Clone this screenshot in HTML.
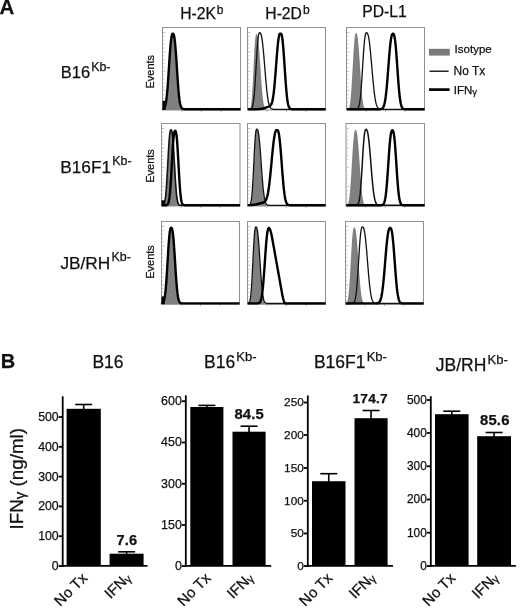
<!DOCTYPE html>
<html><head><meta charset="utf-8"><title>Figure</title>
<style>
html,body{margin:0;padding:0;background:#fff;}
body{width:520px;height:611px;overflow:hidden;font-family:"Liberation Sans",sans-serif;}
svg{display:block;will-change:transform;}
svg text{font-family:"Liberation Sans",sans-serif;fill:#111;stroke:#111;stroke-width:0.25px;}
</style></head><body>
<svg width="520" height="611" viewBox="0 0 520 611">
<rect width="520" height="611" fill="#fff"/>
<rect x="162.5" y="27.5" width="78.0" height="82.5" fill="#fff" stroke="#909090" stroke-width="1"/>
<path d="M163.0,106.1h1.3M163.0,102.2h1.3M163.0,98.4h1.3M163.0,94.5h1.3M163.0,90.6h2.4M163.0,86.8h1.3M163.0,82.9h1.3M163.0,79.0h1.3M163.0,75.1h1.3M163.0,71.2h2.4M163.0,67.4h1.3M163.0,63.5h1.3M163.0,59.6h1.3M163.0,55.8h1.3M163.0,51.9h2.4M163.0,48.0h1.3M163.0,44.1h1.3M163.0,40.2h1.3M163.0,36.4h1.3M163.0,32.5h2.4" stroke="#a8a8a8" stroke-width="0.7" fill="none"/>
<path d="M182.0,110.0v1.8M201.5,110.0v1.8M221.0,110.0v1.8" stroke="#999" stroke-width="0.8" fill="none"/>
<path d="M162.5,110 162.5,110 163,110 163.5,109.9 164,109.8 164.5,109.5 165,109 165.5,108.1 166,106.4 166.5,103.8 167,100 167.5,94.7 168,88 168.5,80 169,71.2 169.5,62.1 170,53.6 170.5,46.2 171,40.4 171.5,36.6 172,34.6 172.5,34 173,34.2 173.5,35.4 174,38 174.5,42.4 175,48.4 175.5,55.7 176,63.9 176.5,72.4 177,80.7 177.5,88.2 178,94.5 178.5,99.5 179,103.3 179.5,106 180,107.7 180.5,108.8 181,109.4 181.5,109.7 182,109.9 182.5,109.9 183,110 183.5,110 184,110 184.5,110 186.9,110Z" fill="#808080"/>
<rect x="162.5" y="100.8" width="3.2" height="9.2" fill="#000"/>
<path d="M163,109.2 163,109 163.5,108.8 164,108.4 164.5,107.6 165,106.5 165.5,104.7 166,102.2 166.5,98.6 167,94 167.5,88.3 168,81.7 168.5,74.3 169,66.5 169.5,58.8 170,51.7 170.5,45.5 171,40.5 171.5,37 172,34.8 172.5,33.8 173,33.7 173.5,34.1 174,35.5 174.5,38.2 175,42.3 175.5,47.8 176,54.4 176.5,61.9 177,69.6 177.5,77.3 178,84.4 178.5,90.8 179,96 179.5,100.2 180,103.3 180.5,105.5 181,107 181.5,108 182,108.5 182.5,108.9 183,109 183.5,109.1 184,109.2 184.5,109.2 185,109.2 185.5,109.2 186,109.2 240.5,109.2" fill="none" stroke="#000" stroke-width="2.4" stroke-linejoin="round"/>
<rect x="247.5" y="27.5" width="78.0" height="82.5" fill="#fff" stroke="#909090" stroke-width="1"/>
<path d="M248.0,106.1h1.3M248.0,102.2h1.3M248.0,98.4h1.3M248.0,94.5h1.3M248.0,90.6h2.4M248.0,86.8h1.3M248.0,82.9h1.3M248.0,79.0h1.3M248.0,75.1h1.3M248.0,71.2h2.4M248.0,67.4h1.3M248.0,63.5h1.3M248.0,59.6h1.3M248.0,55.8h1.3M248.0,51.9h2.4M248.0,48.0h1.3M248.0,44.1h1.3M248.0,40.2h1.3M248.0,36.4h1.3M248.0,32.5h2.4" stroke="#a8a8a8" stroke-width="0.7" fill="none"/>
<path d="M267.0,110.0v1.8M286.5,110.0v1.8M306.0,110.0v1.8" stroke="#999" stroke-width="0.8" fill="none"/>
<path d="M247.5,110 247.5,110 248,110 248.5,109.9 249,109.8 249.5,109.6 250,109 250.5,107.8 251,105.5 251.5,101.7 252,96 252.5,88.3 253,78.8 253.5,68.2 254,57.6 254.5,48.3 255,41 255.5,36.4 256,34.3 256.5,34 257,34.4 257.5,35.7 258,38.2 258.5,42.2 259,47.4 259.5,53.7 260,60.9 260.5,68.5 261,76.1 261.5,83.2 262,89.7 262.5,95.1 263,99.6 263.5,103 264,105.5 264.5,107.2 265,108.4 265.5,109.1 266,109.5 266.5,109.8 267,109.9 267.5,109.9 268,110 268.5,110 269,110 269.5,110 270,110 272.4,110Z" fill="#808080"/>
<path d="M247.5,109.3 247.5,109.3 248,109.3 248.5,109.3 249,109.3 249.5,109.3 250,109.2 250.5,109.1 251,108.9 251.5,108.5 252,107.7 252.5,106.4 253,104.3 253.5,101.2 254,96.9 254.5,91.3 255,84.4 255.5,76.5 256,68 256.5,59.5 257,51.5 257.5,44.6 258,39.2 258.5,35.5 259,33.4 259.5,32.7 260,32.7 260.5,33.2 261,34.2 261.5,36.1 262,38.9 262.5,42.5 263,47 263.5,52.2 264,58 264.5,64.1 265,70.3 265.5,76.4 266,82.2 266.5,87.5 267,92.3 267.5,96.3 268,99.7 268.5,102.3 269,104.4 269.5,106 270,107.1 270.5,107.9 271,108.4 271.5,108.8 272,109 272.5,109.1 273,109.2 273.5,109.3 274,109.3 274.5,109.3 275,109.3 275.5,109.3 276,109.3 276.5,109.3 325.5,109.3" fill="none" stroke="#111" stroke-width="1.3" stroke-linejoin="round"/>
<path d="M248,109.2 256.6,109.2 257.1,109.2 257.6,109.1 258.1,109.1 258.6,109.1 259.1,109.1 259.6,109 260.1,109 260.6,108.9 261.1,108.9 261.6,108.8 262.1,108.7 262.6,108.6 263.1,108.5 263.6,108.4 264.1,108.2 264.6,108.1 265.1,107.9 265.6,107.7 266.1,107.5 266.6,107.4 267.1,107.2 267.6,107 268.1,106.8 268.6,106.6 269.1,106.4 269.6,106.1 270.1,105.8 270.6,105.3 271.1,104.6 271.6,103.6 272.1,102.1 272.6,100.1 273.1,97.3 273.6,93.8 274.1,89.5 274.6,84.4 275.1,78.5 275.6,72.2 276.1,65.5 276.6,58.9 277.1,52.6 277.6,46.9 278.1,42 278.6,38.2 279.1,35.5 279.6,33.9 280.1,33.7 280.6,33.7 281.1,33.7 281.6,34.6 282.1,37 282.6,40.6 283.1,45.6 283.6,51.8 284.1,58.8 284.6,66.3 285.1,73.9 285.6,81.2 286.1,87.7 286.6,93.4 287.1,98 287.6,101.6 288.1,104.3 288.6,106.2 289.1,107.4 289.6,108.2 290.1,108.7 290.6,108.9 291.1,109.1 291.6,109.1 292.1,109.2 292.6,109.2 293.1,109.2 293.6,109.2 294.1,109.2 325.5,109.2" fill="none" stroke="#000" stroke-width="2.4" stroke-linejoin="round"/>
<rect x="346.5" y="27.5" width="78.0" height="82.5" fill="#fff" stroke="#909090" stroke-width="1"/>
<path d="M347.0,106.1h1.3M347.0,102.2h1.3M347.0,98.4h1.3M347.0,94.5h1.3M347.0,90.6h2.4M347.0,86.8h1.3M347.0,82.9h1.3M347.0,79.0h1.3M347.0,75.1h1.3M347.0,71.2h2.4M347.0,67.4h1.3M347.0,63.5h1.3M347.0,59.6h1.3M347.0,55.8h1.3M347.0,51.9h2.4M347.0,48.0h1.3M347.0,44.1h1.3M347.0,40.2h1.3M347.0,36.4h1.3M347.0,32.5h2.4" stroke="#a8a8a8" stroke-width="0.7" fill="none"/>
<path d="M366.0,110.0v1.8M385.5,110.0v1.8M405.0,110.0v1.8" stroke="#999" stroke-width="0.8" fill="none"/>
<path d="M346.5,110 346.5,110 347,109.9 347.5,109.8 348,109.5 348.5,109 349,108 349.5,106.4 350,103.7 350.5,99.8 351,94.5 351.5,87.7 352,79.6 352.5,70.6 353,61.5 353.5,52.8 354,45.3 354.5,39.5 355,35.6 355.5,33.6 356,33 356.5,33.1 357,34.1 357.5,36.3 358,39.9 358.5,45 359,51.3 359.5,58.6 360,66.5 360.5,74.4 361,81.9 361.5,88.7 362,94.5 362.5,99.2 363,102.8 363.5,105.4 364,107.2 364.5,108.4 365,109.1 365.5,109.6 366,109.8 366.5,109.9 367,110 367.5,110 368,110 368.5,110 369,110 371.6,110Z" fill="#808080"/>
<path d="M346.5,109.3 353.5,109.3 354,109.3 354.5,109.3 355,109.3 355.5,109.3 356,109.2 356.5,109.2 357,109 357.5,108.7 358,108.2 358.5,107.3 359,105.8 359.5,103.6 360,100.4 360.5,96.2 361,90.7 361.5,84.2 362,76.7 362.5,68.7 363,60.6 363.5,52.9 364,46.1 364.5,40.6 365,36.6 365.5,34.1 366,32.9 366.5,32.7 367,32.8 367.5,33.5 368,34.7 368.5,36.7 369,39.4 369.5,43 370,47.3 370.5,52.2 371,57.6 371.5,63.3 372,69.2 372.5,74.9 373,80.5 373.5,85.7 374,90.3 374.5,94.4 375,97.9 375.5,100.8 376,103.1 376.5,104.9 377,106.3 377.5,107.3 378,108 378.5,108.4 379,108.8 379.5,109 380,109.1 380.5,109.2 381,109.2 381.5,109.3 382,109.3 382.5,109.3 383,109.3 383.5,109.3 384,109.3 424.5,109.3" fill="none" stroke="#111" stroke-width="1.3" stroke-linejoin="round"/>
<path d="M347,109.2 377.2,109.2 377.7,109.2 378.2,109.2 378.7,109.2 379.2,109.2 379.7,109.2 380.2,109.1 380.7,109.1 381.2,109 381.7,108.8 382.2,108.6 382.7,108.1 383.2,107.4 383.7,106.4 384.2,104.9 384.7,102.8 385.2,100.1 385.7,96.7 386.2,92.5 386.7,87.5 387.2,81.8 387.7,75.7 388.2,69.2 388.7,62.6 389.2,56.3 389.7,50.5 390.2,45.3 390.7,41.1 391.2,37.9 391.7,35.6 392.2,34.3 392.7,33.8 393.2,33.7 393.7,34.1 394.2,35.4 394.7,37.8 395.2,41.4 395.7,46.2 396.2,52 396.7,58.6 397.2,65.7 397.7,72.9 398.2,79.9 398.7,86.3 399.2,91.9 399.7,96.6 400.2,100.3 400.7,103.2 401.2,105.3 401.7,106.8 402.2,107.8 402.7,108.4 403.2,108.8 403.7,109 404.2,109.1 404.7,109.1 405.2,109.2 405.7,109.2 406.2,109.2 406.7,109.2 407.2,109.2 424.5,109.2" fill="none" stroke="#000" stroke-width="2.4" stroke-linejoin="round"/>
<rect x="161.5" y="123.5" width="78.5" height="82.5" fill="#fff" stroke="#909090" stroke-width="1"/>
<path d="M162.0,202.1h1.3M162.0,198.2h1.3M162.0,194.4h1.3M162.0,190.5h1.3M162.0,186.6h2.4M162.0,182.8h1.3M162.0,178.9h1.3M162.0,175.0h1.3M162.0,171.1h1.3M162.0,167.2h2.4M162.0,163.4h1.3M162.0,159.5h1.3M162.0,155.6h1.3M162.0,151.8h1.3M162.0,147.9h2.4M162.0,144.0h1.3M162.0,140.1h1.3M162.0,136.2h1.3M162.0,132.4h1.3M162.0,128.5h2.4" stroke="#a8a8a8" stroke-width="0.7" fill="none"/>
<path d="M181.1,206.0v1.8M200.8,206.0v1.8M220.4,206.0v1.8" stroke="#999" stroke-width="0.8" fill="none"/>
<path d="M161.5,206 161.5,206 162,206 162.5,205.9 163,205.8 163.5,205.5 164,204.8 164.5,203.6 165,201.5 165.5,198.2 166,193.3 166.5,186.8 167,178.8 167.5,169.6 168,159.9 168.5,150.6 169,142.6 169.5,136.4 170,132.4 170.5,130.4 171,130 171.5,130.3 172,131.6 172.5,134.4 173,138.8 173.5,144.7 174,151.9 174.5,159.9 175,168.2 175.5,176.2 176,183.6 176.5,189.8 177,194.9 177.5,198.8 178,201.5 178.5,203.4 179,204.5 179.5,205.2 180,205.6 180.5,205.8 181,205.9 181.5,206 182,206 182.5,206 183,206 183.5,206 185.7,206Z" fill="#808080"/>
<path d="M161.5,205.3 161.5,205.3 162,205.3 162.5,205.2 163,205.1 163.5,204.8 164,204.1 164.5,202.9 165,200.8 165.5,197.5 166,192.7 166.5,186.3 167,178.2 167.5,169.1 168,159.5 168.5,150.3 169,142.3 169.5,136.2 170,132.2 170.5,130.2 171,129.8 171.5,130.2 172,131.8 172.5,135.3 173,140.6 173.5,147.6 174,156 174.5,164.9 175,173.8 175.5,181.9 176,188.9 176.5,194.4 177,198.5 177.5,201.3 178,203.1 178.5,204.2 179,204.8 179.5,205.1 180,205.2 180.5,205.3 181,205.3 181.5,205.3 182,205.3 182.5,205.3 240,205.3" fill="none" stroke="#111" stroke-width="1.6" stroke-linejoin="round"/>
<rect x="161.5" y="200.3" width="3.2" height="5.7" fill="#000"/>
<path d="M162,205.2 164,205.2 164.5,205.2 165,205.2 165.5,205.2 166,205.2 166.5,205.1 167,204.9 167.5,204.6 168,203.9 168.5,202.7 169,200.6 169.5,197.4 170,192.7 170.5,186.6 171,179 171.5,170.3 172,161.2 172.5,152.3 173,144.4 173.5,138.2 174,133.9 174.5,131.6 175,130.8 175.5,130.9 176,132.2 176.5,135.2 177,140.2 177.5,147.1 178,155.4 178.5,164.5 179,173.5 179.5,181.9 180,189 180.5,194.6 181,198.7 181.5,201.5 182,203.2 182.5,204.2 183,204.7 183.5,205 184,205.1 184.5,205.2 185,205.2 185.5,205.2 186,205.2 240,205.2" fill="none" stroke="#000" stroke-width="2.4" stroke-linejoin="round"/>
<rect x="247.5" y="123.5" width="78.0" height="82.5" fill="#fff" stroke="#909090" stroke-width="1"/>
<path d="M248.0,202.1h1.3M248.0,198.2h1.3M248.0,194.4h1.3M248.0,190.5h1.3M248.0,186.6h2.4M248.0,182.8h1.3M248.0,178.9h1.3M248.0,175.0h1.3M248.0,171.1h1.3M248.0,167.2h2.4M248.0,163.4h1.3M248.0,159.5h1.3M248.0,155.6h1.3M248.0,151.8h1.3M248.0,147.9h2.4M248.0,144.0h1.3M248.0,140.1h1.3M248.0,136.2h1.3M248.0,132.4h1.3M248.0,128.5h2.4" stroke="#a8a8a8" stroke-width="0.7" fill="none"/>
<path d="M267.0,206.0v1.8M286.5,206.0v1.8M306.0,206.0v1.8" stroke="#999" stroke-width="0.8" fill="none"/>
<path d="M247.5,206 247.5,206 248,206 248.5,206 249,206 249.5,205.9 250,205.7 250.5,205.2 251,204.1 251.5,202.1 252,198.4 252.5,192.8 253,184.9 253.5,175 254,164 254.5,152.9 255,143.2 255.5,135.8 256,131.3 256.5,129.5 257,129.3 257.5,129.8 258,131.3 258.5,134 259,137.9 259.5,143.2 260,149.5 260.5,156.5 261,164 261.5,171.4 262,178.5 262.5,184.9 263,190.4 263.5,194.9 264,198.4 264.5,201 265,202.9 265.5,204.1 266,204.9 266.5,205.4 267,205.7 267.5,205.8 268,205.9 268.5,206 269,206 269.5,206 270,206 270.5,206 273.2,206Z" fill="#808080"/>
<path d="M247.5,205.3 247.5,205.3 248,205.3 248.5,205.3 249,205.2 249.5,205 250,204.5 250.5,203.6 251,201.8 251.5,198.8 252,194.2 252.5,187.6 253,179.2 253.5,169.4 254,159.1 254.5,149.2 255,140.7 255.5,134.5 256,130.7 256.5,129.2 257,129.1 257.5,129.6 258,130.8 258.5,133.2 259,136.7 259.5,141.4 260,147.1 260.5,153.5 261,160.5 261.5,167.6 262,174.5 262.5,180.9 263,186.6 263.5,191.5 264,195.4 264.5,198.5 265,200.8 265.5,202.4 266,203.5 266.5,204.3 267,204.7 267.5,205 268,205.1 268.5,205.2 269,205.3 269.5,205.3 270,205.3 270.5,205.3 271,205.3 271.5,205.3 325.5,205.3" fill="none" stroke="#111" stroke-width="1.3" stroke-linejoin="round"/>
<path d="M248,205.2 248,205.2 248.5,205.1 249,205.1 249.5,205.1 250,205.1 250.5,205.1 251,205 251.5,205 252,205 252.5,204.9 253,204.9 253.5,204.8 254,204.7 254.5,204.6 255,204.6 255.5,204.5 256,204.4 256.5,204.3 257,204.1 257.5,204 258,203.9 258.5,203.8 259,203.6 259.5,203.5 260,203.4 260.5,203.2 261,203.1 261.5,203 262,202.8 262.5,202.7 263,202.6 263.5,202.4 264,202.1 264.5,201.8 265,201.4 265.5,200.8 266,199.9 266.5,198.8 267,197.3 267.5,195.4 268,193 268.5,190 269,186.6 269.5,182.5 270,178 270.5,173.1 271,167.9 271.5,162.6 272,157.2 272.5,152 273,147.1 273.5,142.7 274,138.9 274.5,135.7 275,133.2 275.5,131.5 276,130.4 276.5,130.1 277,130.1 277.5,130.1 278,130.6 278.5,132.1 279,134.6 279.5,138.2 280,142.8 280.5,148.2 281,154.4 281.5,160.9 282,167.6 282.5,174.1 283,180.2 283.5,185.7 284,190.5 284.5,194.4 285,197.6 285.5,200 286,201.7 286.5,203 287,203.9 287.5,204.4 288,204.7 288.5,205 289,205.1 289.5,205.1 290,205.2 290.5,205.2 291,205.2 291.5,205.2 292,205.2 292.5,205.2 325.5,205.2" fill="none" stroke="#000" stroke-width="2.4" stroke-linejoin="round"/>
<rect x="346.0" y="123.5" width="78.5" height="82.5" fill="#fff" stroke="#909090" stroke-width="1"/>
<path d="M346.5,202.1h1.3M346.5,198.2h1.3M346.5,194.4h1.3M346.5,190.5h1.3M346.5,186.6h2.4M346.5,182.8h1.3M346.5,178.9h1.3M346.5,175.0h1.3M346.5,171.1h1.3M346.5,167.2h2.4M346.5,163.4h1.3M346.5,159.5h1.3M346.5,155.6h1.3M346.5,151.8h1.3M346.5,147.9h2.4M346.5,144.0h1.3M346.5,140.1h1.3M346.5,136.2h1.3M346.5,132.4h1.3M346.5,128.5h2.4" stroke="#a8a8a8" stroke-width="0.7" fill="none"/>
<path d="M365.6,206.0v1.8M385.2,206.0v1.8M404.9,206.0v1.8" stroke="#999" stroke-width="0.8" fill="none"/>
<path d="M346,206 346,205.9 346.5,205.7 347,205.5 347.5,204.9 348,203.9 348.5,202.4 349,199.9 349.5,196.4 350,191.6 350.5,185.5 351,178.2 351.5,170 352,161.5 352.5,153.1 353,145.6 353.5,139.3 354,134.6 354.5,131.6 355,130.1 355.5,129.8 356,130 356.5,131.1 357,133.2 357.5,136.6 358,141.4 358.5,147.2 359,154 359.5,161.3 360,168.7 360.5,176 361,182.6 361.5,188.4 362,193.3 362.5,197.2 363,200.1 363.5,202.3 364,203.7 364.5,204.7 365,205.3 365.5,205.6 366,205.8 366.5,205.9 367,206 367.5,206 368,206 368.5,206 369,206 369.5,206 371.9,206Z" fill="#808080"/>
<path d="M346,205.3 353.7,205.3 354.2,205.3 354.7,205.3 355.2,205.3 355.7,205.3 356.2,205.2 356.7,205.1 357.2,204.9 357.7,204.5 358.2,203.8 358.7,202.5 359.2,200.5 359.7,197.5 360.2,193.4 360.7,187.9 361.2,181.2 361.7,173.4 362.2,165 362.7,156.5 363.2,148.5 363.7,141.6 364.2,136.1 364.7,132.3 365.2,130.1 365.7,129.4 366.2,129.3 366.7,129.7 367.2,130.8 367.7,132.7 368.2,135.5 368.7,139.2 369.2,143.8 369.7,149.1 370.2,155 370.7,161.2 371.2,167.5 371.7,173.7 372.2,179.5 372.7,184.8 373.2,189.4 373.7,193.3 374.2,196.5 374.7,199.1 375.2,201 375.7,202.4 376.2,203.4 376.7,204.1 377.2,204.6 377.7,204.9 378.2,205.1 378.7,205.2 379.2,205.2 379.7,205.3 380.2,205.3 380.7,205.3 381.2,205.3 381.7,205.3 382.2,205.3 424.5,205.3" fill="none" stroke="#111" stroke-width="1.5" stroke-linejoin="round"/>
<path d="M346.5,205.2 378.7,205.2 379.2,205.2 379.7,205.2 380.2,205.2 380.7,205.2 381.2,205.2 381.7,205.1 382.2,205 382.7,204.8 383.2,204.4 383.7,203.7 384.2,202.7 384.7,201.1 385.2,198.8 385.7,195.5 386.2,191.3 386.7,186.1 387.2,179.9 387.7,172.9 388.2,165.5 388.7,158 389.2,150.8 389.7,144.4 390.2,139.1 390.7,135 391.2,132.3 391.7,130.8 392.2,130.3 392.7,130.4 393.2,131.2 393.7,133.1 394.2,136.4 394.7,141.1 395.2,147.1 395.7,154 396.2,161.6 396.7,169.3 397.2,176.8 397.7,183.5 398.2,189.3 398.7,194.1 399.2,197.7 399.7,200.4 400.2,202.3 400.7,203.5 401.2,204.3 401.7,204.7 402.2,205 402.7,205.1 403.2,205.2 403.7,205.2 404.2,205.2 404.7,205.2 405.2,205.2 405.7,205.2 424.5,205.2" fill="none" stroke="#000" stroke-width="2.4" stroke-linejoin="round"/>
<rect x="161.5" y="221.5" width="78.0" height="82.69999999999999" fill="#fff" stroke="#909090" stroke-width="1"/>
<path d="M162.0,300.3h1.3M162.0,296.4h1.3M162.0,292.5h1.3M162.0,288.7h1.3M162.0,284.8h2.4M162.0,280.9h1.3M162.0,277.0h1.3M162.0,273.1h1.3M162.0,269.2h1.3M162.0,265.4h2.4M162.0,261.5h1.3M162.0,257.6h1.3M162.0,253.7h1.3M162.0,249.8h1.3M162.0,245.9h2.4M162.0,242.0h1.3M162.0,238.2h1.3M162.0,234.3h1.3M162.0,230.4h1.3M162.0,226.5h2.4" stroke="#a8a8a8" stroke-width="0.7" fill="none"/>
<path d="M181.0,304.2v1.8M200.5,304.2v1.8M220.0,304.2v1.8" stroke="#999" stroke-width="0.8" fill="none"/>
<path d="M161.5,304.2 161.5,304.2 162,304.1 162.5,304 163,303.7 163.5,303.2 164,302.2 164.5,300.6 165,298 165.5,294.1 166,288.8 166.5,282 167,273.9 167.5,265 168,255.9 168.5,247.2 169,239.8 169.5,234 170,230.1 170.5,228.1 171,227.5 171.5,227.7 172,228.9 172.5,231.6 173,235.9 173.5,242 174,249.4 174.5,257.7 175,266.3 175.5,274.6 176,282.2 176.5,288.6 177,293.6 177.5,297.5 178,300.1 178.5,301.9 179,302.9 179.5,303.6 180,303.9 180.5,304.1 181,304.1 181.5,304.2 182,304.2 182.5,304.2 183,304.2 185.4,304.2Z" fill="#808080"/>
<rect x="161.5" y="296.5" width="3.2" height="7.7" fill="#000"/>
<path d="M162,303.4 162,303.2 162.5,303 163,302.6 163.5,301.8 164,300.5 164.5,298.4 165,295.4 165.5,291.1 166,285.6 166.5,278.8 167,271 167.5,262.6 168,254.2 168.5,246.3 169,239.5 169.5,234.2 170,230.5 170.5,228.5 171,227.8 171.5,227.9 172,228.7 172.5,230.7 173,234.2 173.5,239.2 174,245.5 174.5,252.8 175,260.7 175.5,268.7 176,276.3 176.5,283.1 177,288.8 177.5,293.4 178,296.9 178.5,299.4 179,301 179.5,302.1 180,302.7 180.5,303 181,303.2 181.5,303.3 182,303.4 182.5,303.4 183,303.4 183.5,303.4 184,303.4 239.5,303.4" fill="none" stroke="#000" stroke-width="2.4" stroke-linejoin="round"/>
<rect x="247.5" y="221.5" width="78.0" height="82.69999999999999" fill="#fff" stroke="#909090" stroke-width="1"/>
<path d="M248.0,300.3h1.3M248.0,296.4h1.3M248.0,292.5h1.3M248.0,288.7h1.3M248.0,284.8h2.4M248.0,280.9h1.3M248.0,277.0h1.3M248.0,273.1h1.3M248.0,269.2h1.3M248.0,265.4h2.4M248.0,261.5h1.3M248.0,257.6h1.3M248.0,253.7h1.3M248.0,249.8h1.3M248.0,245.9h2.4M248.0,242.0h1.3M248.0,238.2h1.3M248.0,234.3h1.3M248.0,230.4h1.3M248.0,226.5h2.4" stroke="#a8a8a8" stroke-width="0.7" fill="none"/>
<path d="M267.0,304.2v1.8M286.5,304.2v1.8M306.0,304.2v1.8" stroke="#999" stroke-width="0.8" fill="none"/>
<path d="M247.5,304.2 247.5,304.2 248,304.2 248.5,304.1 249,304 249.5,303.5 250,302.6 250.5,300.8 251,297.5 251.5,292.2 252,284.8 252.5,275.2 253,264.2 253.5,253 254,242.8 254.5,234.9 255,229.8 255.5,227.5 256,227.1 256.5,227.5 257,229.1 257.5,232 258,236.5 258.5,242.4 259,249.5 259.5,257.4 260,265.6 260.5,273.6 261,280.8 261.5,287.2 262,292.3 262.5,296.3 263,299.2 263.5,301.2 264,302.5 264.5,303.3 265,303.7 265.5,304 266,304.1 266.5,304.2 267,304.2 267.5,304.2 268,304.2 268.5,304.2 271,304.2Z" fill="#808080"/>
<path d="M247.5,303.5 247.5,303.5 248,303.4 248.5,303.2 249,302.8 249.5,302 250,300.4 250.5,297.7 251,293.4 251.5,287.2 252,279.1 252.5,269.5 253,259.1 253.5,249 254,240.1 254.5,233.4 255,229.1 255.5,227.2 256,226.9 256.5,227.3 257,228.6 257.5,231.2 258,235.1 258.5,240.4 259,246.8 259.5,254 260,261.7 260.5,269.3 261,276.5 261.5,283 262,288.5 262.5,293 263,296.5 263.5,299 264,300.7 264.5,301.9 265,302.6 265.5,303 266,303.3 266.5,303.4 267,303.4 267.5,303.5 268,303.5 268.5,303.5 269,303.5 269.5,303.5 325.5,303.5" fill="none" stroke="#111" stroke-width="1.3" stroke-linejoin="round"/>
<path d="M248,303.4 255,303.4 255.5,303.4 256,303.4 256.5,303.4 257,303.4 257.5,303.4 258,303.3 258.5,303.2 259,303 259.5,302.7 260,302.1 260.5,301.2 261,299.8 261.5,297.8 262,294.9 262.5,291.2 263,286.4 263.5,280.7 264,274.2 264.5,267.1 265,259.7 265.5,252.4 266,245.7 266.5,239.8 267,235 267.5,231.5 268,229.3 268.5,228.2 269,227.9 269.5,228.6 270,229.5 270.5,230.8 271,232.5 271.5,234.7 272,237.2 272.5,240 273,242.8 273.5,245.6 274,248.4 274.5,251.2 275,254 275.5,256.8 276,259.6 276.5,262.4 277,265.1 277.5,267.9 278,270.7 278.5,273.5 279,276.3 279.5,279.1 280,281.9 280.5,284.7 281,287.5 281.5,290.3 282,293.1 282.5,295.8 283,298 283.5,299.9 284,301.4 284.5,302.5 285,303.1 285.5,303.4 286,303.4 325.5,303.4" fill="none" stroke="#000" stroke-width="2.4" stroke-linejoin="round"/>
<rect x="345.5" y="221.5" width="78.0" height="82.69999999999999" fill="#fff" stroke="#909090" stroke-width="1"/>
<path d="M346.0,300.3h1.3M346.0,296.4h1.3M346.0,292.5h1.3M346.0,288.7h1.3M346.0,284.8h2.4M346.0,280.9h1.3M346.0,277.0h1.3M346.0,273.1h1.3M346.0,269.2h1.3M346.0,265.4h2.4M346.0,261.5h1.3M346.0,257.6h1.3M346.0,253.7h1.3M346.0,249.8h1.3M346.0,245.9h2.4M346.0,242.0h1.3M346.0,238.2h1.3M346.0,234.3h1.3M346.0,230.4h1.3M346.0,226.5h2.4" stroke="#a8a8a8" stroke-width="0.7" fill="none"/>
<path d="M365.0,304.2v1.8M384.5,304.2v1.8M404.0,304.2v1.8" stroke="#999" stroke-width="0.8" fill="none"/>
<path d="M345.5,304.2 345.5,304 346,303.8 346.5,303.3 347,302.5 347.5,301 348,298.6 348.5,294.9 349,289.9 349.5,283.4 350,275.5 350.5,266.7 351,257.6 351.5,248.7 352,241 352.5,234.8 353,230.5 353.5,228.2 354,227.3 354.5,227.4 355,228 355.5,229.6 356,232.3 356.5,236.4 357,241.6 357.5,247.7 358,254.7 358.5,262 359,269.3 359.5,276.2 360,282.5 360.5,288 361,292.5 361.5,296.1 362,298.8 362.5,300.7 363,302.1 363.5,303 364,303.5 364.5,303.8 365,304 365.5,304.1 366,304.2 366.5,304.2 367,304.2 367.5,304.2 368,304.2 368.5,304.2 371,304.2Z" fill="#808080"/>
<path d="M345.5,303.5 349.5,303.5 350,303.5 350.5,303.5 351,303.5 351.5,303.5 352,303.4 352.5,303.4 353,303.2 353.5,302.9 354,302.4 354.5,301.5 355,300 355.5,297.8 356,294.6 356.5,290.4 357,284.9 357.5,278.4 358,270.9 358.5,262.9 359,254.8 359.5,247.1 360,240.3 360.5,234.8 361,230.8 361.5,228.3 362,227.1 362.5,226.9 363,227.1 363.5,227.8 364,229.2 364.5,231.5 365,234.7 365.5,238.8 366,243.6 366.5,249.1 367,255.1 367.5,261.3 368,267.5 368.5,273.5 369,279.1 369.5,284.1 370,288.5 370.5,292.2 371,295.2 371.5,297.6 372,299.4 372.5,300.8 373,301.7 373.5,302.4 374,302.8 374.5,303.1 375,303.3 375.5,303.4 376,303.4 376.5,303.5 377,303.5 377.5,303.5 378,303.5 378.5,303.5 379,303.5 423.5,303.5" fill="none" stroke="#111" stroke-width="1.3" stroke-linejoin="round"/>
<path d="M346,303.4 373.3,303.4 373.8,303.4 374.3,303.4 374.8,303.4 375.3,303.4 375.8,303.4 376.3,303.4 376.8,303.3 377.3,303.3 377.8,303.1 378.3,302.9 378.8,302.6 379.3,302.2 379.8,301.5 380.3,300.4 380.8,299 381.3,297.1 381.8,294.6 382.3,291.4 382.8,287.6 383.3,283.1 383.8,278 384.3,272.4 384.8,266.4 385.3,260.3 385.8,254.2 386.3,248.4 386.8,243.2 387.3,238.6 387.8,234.8 388.3,231.8 388.8,229.8 389.3,228.5 389.8,228 390.3,227.9 390.8,228.2 391.3,229.2 391.8,231.1 392.3,234.1 392.8,238.3 393.3,243.4 393.8,249.4 394.3,256 394.8,262.8 395.3,269.6 395.8,276.1 396.3,282 396.8,287.2 397.3,291.5 397.8,294.9 398.3,297.6 398.8,299.6 399.3,301 399.8,301.9 400.3,302.5 400.8,302.9 401.3,303.1 401.8,303.3 402.3,303.3 402.8,303.4 403.3,303.4 403.8,303.4 404.3,303.4 404.8,303.4 405.3,303.4 423.5,303.4" fill="none" stroke="#000" stroke-width="2.4" stroke-linejoin="round"/>
<text x="-0.4" y="14.3" font-size="20.5" font-weight="bold" text-anchor="start" >A</text>
<text x="180.2" y="19.2" font-size="15.7">H-2K<tspan font-size="12" dy="-5.7" dx="0.8">b</tspan></text>
<text x="265.3" y="19.2" font-size="15.7">H-2D<tspan font-size="12" dy="-5.7" dx="1.0">b</tspan></text>
<text x="362.3" y="16.7" font-size="15.7" font-weight="normal" text-anchor="start" >PD-L1</text>
<text x="60.8" y="77.8" font-size="16.5">B16<tspan font-size="12.4" dy="-6.9" dx="1.0">Kb-</tspan></text>
<text x="60.2" y="172.7" font-size="17.3">B16F1<tspan font-size="12.4" dy="-8.0" dx="1.2">Kb-</tspan></text>
<text x="60.4" y="268.9" font-size="17.3">JB/RH<tspan font-size="12.4" dy="-8.0" dx="1.2">Kb-</tspan></text>
<text transform="translate(154,71.7) rotate(-90)" font-size="11" text-anchor="middle">Events</text>
<text transform="translate(154,166) rotate(-90)" font-size="11" text-anchor="middle">Events</text>
<text transform="translate(154,262) rotate(-90)" font-size="11" text-anchor="middle">Events</text>
<rect x="429" y="48.8" width="20.8" height="6.8" fill="#7a7a7a"/>
<line x1="429.5" y1="71.2" x2="448.6" y2="71.2" stroke="#000" stroke-width="1.3"/>
<line x1="429" y1="89.6" x2="449.6" y2="89.6" stroke="#000" stroke-width="2.7"/>
<text x="454.6" y="53.4" font-size="11.5" font-weight="normal" text-anchor="start" >Isotype</text>
<text x="453.6" y="74.7" font-size="11.9" font-weight="normal" text-anchor="start" >No Tx</text>
<text x="453.8" y="93.5" font-size="11.5" font-weight="normal" text-anchor="start" >IFN<tspan font-size="9.5" dy="1.2">&#947;</tspan></text>
<text x="0.8" y="367.6" font-size="20" font-weight="bold" text-anchor="start" >B</text>
<text x="92.4" y="367.8" font-size="17.5" font-weight="normal" text-anchor="start" >B16</text>
<text x="204.0" y="367.6" font-size="17.5">B16<tspan font-size="13" dy="-6.9" dx="1.2">Kb-</tspan></text>
<text x="313.9" y="368" font-size="17.5">B16F1<tspan font-size="13" dy="-6.7" dx="1.2">Kb-</tspan></text>
<text x="435.8" y="371.3" font-size="17.5">JB/RH<tspan font-size="13" dy="-7.0" dx="1.2">Kb-</tspan></text>
<text transform="translate(23.3,478.7) rotate(-90)" font-size="18.8" text-anchor="middle">IFN<tspan font-size="15" dy="1.5">&#947;</tspan><tspan dy="-1.5"> (ng/ml)</tspan></text>
<line x1="62.7" y1="396.3" x2="62.7" y2="567.0" stroke="#000" stroke-width="1.8"/>
<line x1="61.800000000000004" y1="565.95" x2="147.5" y2="565.95" stroke="#000" stroke-width="1.8"/>
<line x1="58.7" y1="566" x2="62.7" y2="566" stroke="#000" stroke-width="1.8"/>
<text x="58.7" y="569.9" font-size="12.3" text-anchor="end">0</text>
<line x1="58.7" y1="536.2" x2="62.7" y2="536.2" stroke="#000" stroke-width="1.8"/>
<text x="58.7" y="540.1" font-size="12.3" text-anchor="end">100</text>
<line x1="58.7" y1="506.4" x2="62.7" y2="506.4" stroke="#000" stroke-width="1.8"/>
<text x="58.7" y="510.29999999999995" font-size="12.3" text-anchor="end">200</text>
<line x1="58.7" y1="476.6" x2="62.7" y2="476.6" stroke="#000" stroke-width="1.8"/>
<text x="58.7" y="480.5" font-size="12.3" text-anchor="end">300</text>
<line x1="58.7" y1="446.8" x2="62.7" y2="446.8" stroke="#000" stroke-width="1.8"/>
<text x="58.7" y="450.7" font-size="12.3" text-anchor="end">400</text>
<line x1="58.7" y1="417" x2="62.7" y2="417" stroke="#000" stroke-width="1.8"/>
<text x="58.7" y="420.9" font-size="12.3" text-anchor="end">500</text>
<rect x="66.6" y="408.8" width="34.2" height="157.2" fill="#000"/>
<line x1="83.69999999999999" y1="404.5" x2="83.69999999999999" y2="409.8" stroke="#000" stroke-width="1.6"/>
<line x1="75.19999999999999" y1="404.5" x2="92.19999999999999" y2="404.5" stroke="#000" stroke-width="1.6"/>
<rect x="109.6" y="553.7" width="34.0" height="12.3" fill="#000"/>
<line x1="126.6" y1="551.8" x2="126.6" y2="554.7" stroke="#000" stroke-width="1.6"/>
<line x1="118.1" y1="551.8" x2="135.1" y2="551.8" stroke="#000" stroke-width="1.6"/>
<text x="127" y="544.5" font-size="14.6" font-weight="bold" text-anchor="middle" letter-spacing="0.2">7.6</text>
<text transform="translate(88.2,579.0) rotate(-45)" font-size="14.9" text-anchor="end">No Tx</text>
<text transform="translate(131.6,578.5) rotate(-45)" font-size="14.9" text-anchor="end">IFN<tspan font-size="11.5" dy="1.5">&#947;</tspan></text>
<line x1="185.8" y1="395.3" x2="185.8" y2="567.0" stroke="#000" stroke-width="1.8"/>
<line x1="184.9" y1="565.95" x2="271.2" y2="565.95" stroke="#000" stroke-width="1.8"/>
<line x1="181.8" y1="566" x2="185.8" y2="566" stroke="#000" stroke-width="1.8"/>
<text x="181.8" y="569.9" font-size="12.4" text-anchor="end">0</text>
<line x1="181.8" y1="525" x2="185.8" y2="525" stroke="#000" stroke-width="1.8"/>
<text x="181.8" y="528.9" font-size="12.4" text-anchor="end">150</text>
<line x1="181.8" y1="483.75" x2="185.8" y2="483.75" stroke="#000" stroke-width="1.8"/>
<text x="181.8" y="487.65" font-size="12.4" text-anchor="end">300</text>
<line x1="181.8" y1="442.5" x2="185.8" y2="442.5" stroke="#000" stroke-width="1.8"/>
<text x="181.8" y="446.4" font-size="12.4" text-anchor="end">450</text>
<line x1="181.8" y1="401.25" x2="185.8" y2="401.25" stroke="#000" stroke-width="1.8"/>
<text x="181.8" y="405.15" font-size="12.4" text-anchor="end">600</text>
<rect x="190.3" y="407" width="33.1" height="159.0" fill="#000"/>
<line x1="206.85000000000002" y1="405.4" x2="206.85000000000002" y2="408" stroke="#000" stroke-width="1.6"/>
<line x1="198.35000000000002" y1="405.4" x2="215.35000000000002" y2="405.4" stroke="#000" stroke-width="1.6"/>
<rect x="232.5" y="431.7" width="33.1" height="134.3" fill="#000"/>
<line x1="249.05" y1="426.2" x2="249.05" y2="432.7" stroke="#000" stroke-width="1.6"/>
<line x1="240.55" y1="426.2" x2="257.55" y2="426.2" stroke="#000" stroke-width="1.6"/>
<text x="249.2" y="419.2" font-size="14.8" font-weight="bold" text-anchor="middle" letter-spacing="0.2">84.5</text>
<text transform="translate(211.4,579.0) rotate(-45)" font-size="14.9" text-anchor="end">No Tx</text>
<text transform="translate(254.1,578.5) rotate(-45)" font-size="14.9" text-anchor="end">IFN<tspan font-size="11.5" dy="1.5">&#947;</tspan></text>
<line x1="307.8" y1="395.5" x2="307.8" y2="567.0" stroke="#000" stroke-width="1.8"/>
<line x1="306.90000000000003" y1="565.95" x2="393" y2="565.95" stroke="#000" stroke-width="1.8"/>
<line x1="303.8" y1="566" x2="307.8" y2="566" stroke="#000" stroke-width="1.8"/>
<text x="303.8" y="569.9" font-size="11.8" text-anchor="end">0</text>
<line x1="303.8" y1="533.5" x2="307.8" y2="533.5" stroke="#000" stroke-width="1.8"/>
<text x="303.8" y="537.4" font-size="11.8" text-anchor="end">50</text>
<line x1="303.8" y1="500.75" x2="307.8" y2="500.75" stroke="#000" stroke-width="1.8"/>
<text x="303.8" y="504.65" font-size="11.8" text-anchor="end">100</text>
<line x1="303.8" y1="468" x2="307.8" y2="468" stroke="#000" stroke-width="1.8"/>
<text x="303.8" y="471.9" font-size="11.8" text-anchor="end">150</text>
<line x1="303.8" y1="435" x2="307.8" y2="435" stroke="#000" stroke-width="1.8"/>
<text x="303.8" y="438.9" font-size="11.8" text-anchor="end">200</text>
<line x1="303.8" y1="402.5" x2="307.8" y2="402.5" stroke="#000" stroke-width="1.8"/>
<text x="303.8" y="406.4" font-size="11.8" text-anchor="end">250</text>
<rect x="312" y="481.2" width="33.5" height="84.8" fill="#000"/>
<line x1="328.75" y1="473.7" x2="328.75" y2="482.2" stroke="#000" stroke-width="1.6"/>
<line x1="320.25" y1="473.7" x2="337.25" y2="473.7" stroke="#000" stroke-width="1.6"/>
<rect x="354.5" y="418.2" width="33.1" height="147.8" fill="#000"/>
<line x1="371.05" y1="410.5" x2="371.05" y2="419.2" stroke="#000" stroke-width="1.6"/>
<line x1="362.55" y1="410.5" x2="379.55" y2="410.5" stroke="#000" stroke-width="1.6"/>
<text x="370.2" y="403.4" font-size="13.7" font-weight="bold" text-anchor="middle" letter-spacing="0.2">174.7</text>
<text transform="translate(333.2,579.0) rotate(-45)" font-size="14.9" text-anchor="end">No Tx</text>
<text transform="translate(376.1,578.5) rotate(-45)" font-size="14.9" text-anchor="end">IFN<tspan font-size="11.5" dy="1.5">&#947;</tspan></text>
<line x1="430.8" y1="396.2" x2="430.8" y2="567.0" stroke="#000" stroke-width="1.8"/>
<line x1="429.90000000000003" y1="565.95" x2="515.8" y2="565.95" stroke="#000" stroke-width="1.8"/>
<line x1="426.8" y1="566" x2="430.8" y2="566" stroke="#000" stroke-width="1.8"/>
<text x="426.8" y="569.9" font-size="11.9" text-anchor="end">0</text>
<line x1="426.8" y1="532.7" x2="430.8" y2="532.7" stroke="#000" stroke-width="1.8"/>
<text x="426.8" y="536.6" font-size="11.9" text-anchor="end">100</text>
<line x1="426.8" y1="499.5" x2="430.8" y2="499.5" stroke="#000" stroke-width="1.8"/>
<text x="426.8" y="503.4" font-size="11.9" text-anchor="end">200</text>
<line x1="426.8" y1="466.25" x2="430.8" y2="466.25" stroke="#000" stroke-width="1.8"/>
<text x="426.8" y="470.15" font-size="11.9" text-anchor="end">300</text>
<line x1="426.8" y1="433" x2="430.8" y2="433" stroke="#000" stroke-width="1.8"/>
<text x="426.8" y="436.9" font-size="11.9" text-anchor="end">400</text>
<line x1="426.8" y1="400" x2="430.8" y2="400" stroke="#000" stroke-width="1.8"/>
<text x="426.8" y="403.9" font-size="11.9" text-anchor="end">500</text>
<rect x="435" y="414.2" width="33.6" height="151.8" fill="#000"/>
<line x1="451.8" y1="411.2" x2="451.8" y2="415.2" stroke="#000" stroke-width="1.6"/>
<line x1="443.3" y1="411.2" x2="460.3" y2="411.2" stroke="#000" stroke-width="1.6"/>
<rect x="477.2" y="436.2" width="33.8" height="129.8" fill="#000"/>
<line x1="494.1" y1="432.5" x2="494.1" y2="437.2" stroke="#000" stroke-width="1.6"/>
<line x1="485.6" y1="432.5" x2="502.6" y2="432.5" stroke="#000" stroke-width="1.6"/>
<text x="494.8" y="424.8" font-size="14.8" font-weight="bold" text-anchor="middle" letter-spacing="0.2">85.6</text>
<text transform="translate(456.3,579.0) rotate(-45)" font-size="14.9" text-anchor="end">No Tx</text>
<text transform="translate(499.1,578.5) rotate(-45)" font-size="14.9" text-anchor="end">IFN<tspan font-size="11.5" dy="1.5">&#947;</tspan></text>
</svg>
</body></html>
